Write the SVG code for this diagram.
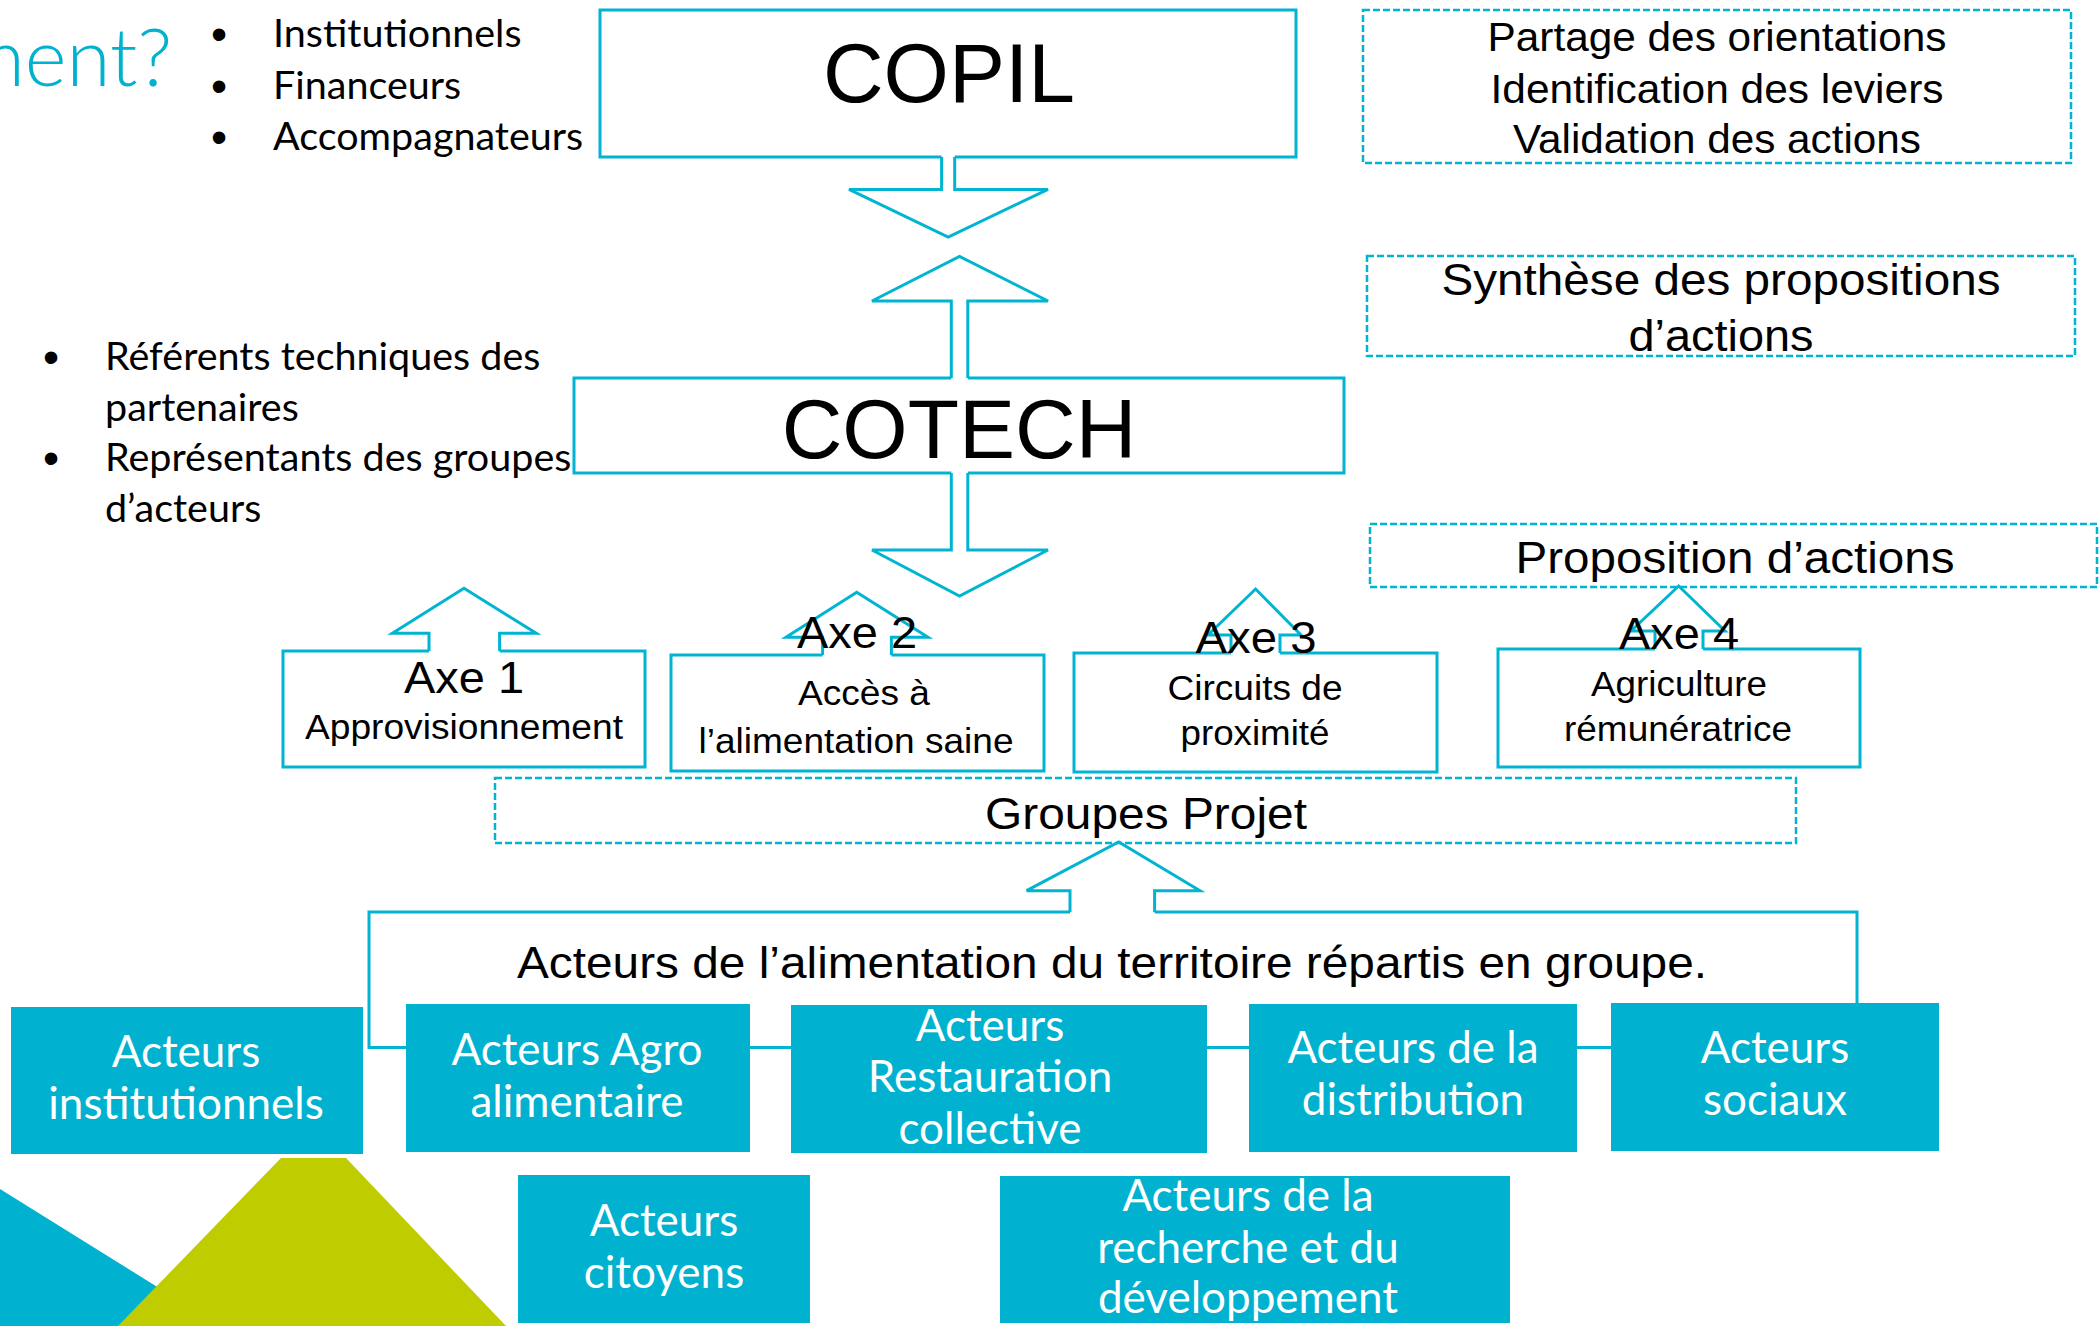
<svg xmlns="http://www.w3.org/2000/svg" width="2099" height="1326" viewBox="0 0 2099 1326">
<style>
.box{fill:none;stroke:#00B4D2;stroke-width:3}
.dash{fill:none;stroke:#00B4D2;stroke-width:2.5;stroke-dasharray:7 3}
.arr{fill:none;stroke:#00B4D2;stroke-width:3;stroke-linejoin:miter}
.fill{fill:#00B2D0}
.t{font-family:"Liberation Sans",Arial,sans-serif;fill:#000;text-anchor:middle}
.c{font-family:Lato,"Open Sans",sans-serif;fill:#000;font-size:39.5px}
.w{font-family:Lato,"Open Sans",sans-serif;fill:#fff;text-anchor:middle;font-size:44px}
.b{font-family:"Liberation Sans",Arial,sans-serif;fill:#000;font-size:46px;text-anchor:middle}
</style>
<rect width="2099" height="1326" fill="#fff"/>
<g id="decor">
<polygon points="0,1189 220,1326 0,1326" fill="#00B2D0"/>
<polygon points="281,1158 346,1158 506,1326 118,1326" fill="#BFCD00"/>
</g>
<text x="172" y="86" font-family="Lato,'Open Sans',sans-serif" font-weight="300" font-size="80" fill="#00B2D0" text-anchor="end">ment?</text>
<g id="liste-copil">
<text class="b" x="219" y="50">•</text>
<text class="b" x="219" y="102">•</text>
<text class="b" x="219" y="153">•</text>
<text class="c" x="273" y="47">Institutionnels</text>
<text class="c" x="273" y="99">Financeurs</text>
<text class="c" x="273" y="150">Accompagnateurs</text>
</g>
<g id="liste-cotech">
<text class="b" x="51" y="373">•</text>
<text class="b" x="51" y="474">•</text>
<text class="c" x="105" y="370">Référents techniques des</text>
<text class="c" x="105" y="421">partenaires</text>
<text class="c" x="105" y="471">Représentants des groupes</text>
<text class="c" x="105" y="522">d’acteurs</text>
</g>
<g id="connectors">
<path class="arr" d="M941.6,157 V189.4 H849 L948.2,237 L1048,189.4 H954.7 V157"/>
<path class="arr" d="M951.3,378 V301 H872 L959.5,256.4 L1048,301 H967.8 V378"/>
<path class="arr" d="M951.3,473 V550 H872 L959.5,596 L1048,550 H967.8 V473"/>
<path class="arr" d="M429,651 V633.3 H392.4 L464,588.3 L536.3,633.3 H499.6 V651"/>
<path class="arr" d="M822.6,655 V637.3 H786 L856.7,592.3 L928,637.3 H891.4 V655"/>
<path class="arr" d="M1231,653 V635 H1208 L1255.6,589 L1301,635 H1280 V653"/>
<path class="arr" d="M1655,649 V631 H1631 L1678.7,586 L1725,631 H1703 V649"/>
<path class="arr" d="M1070,912 V890.7 H1026.6 L1118.7,842 L1200,890.7 H1154.6 V912"/>
</g>
<g id="copil">
<path class="box" d="M941.6,157 H600 V10 H1296 V157 H954.7"/>
<text class="t" x="949" y="102" font-size="84">COPIL</text>
</g>
<g id="cotech">
<path class="box" d="M951.3,378 H574 V473 H951.3 M967.8,473 H1344 V378 H967.8"/>
<text class="t" x="959" y="458" font-size="84">COTECH</text>
</g>
<g id="note-copil">
<rect class="dash" x="1363" y="10" width="708" height="153"/>
<text class="t" x="1717" y="51" font-size="40" textLength="459" lengthAdjust="spacingAndGlyphs">Partage des orientations</text>
<text class="t" x="1717" y="102.6" font-size="40" textLength="453" lengthAdjust="spacingAndGlyphs">Identification des leviers</text>
<text class="t" x="1717" y="153" font-size="40" textLength="408" lengthAdjust="spacingAndGlyphs">Validation des actions</text>
</g>
<g id="note-cotech">
<rect class="dash" x="1367" y="256" width="708" height="100"/>
<text class="t" x="1721" y="295" font-size="45" textLength="559" lengthAdjust="spacingAndGlyphs">Synthèse des propositions</text>
<text class="t" x="1721" y="351" font-size="45" textLength="185" lengthAdjust="spacingAndGlyphs">d’actions</text>
</g>
<g id="note-axes">
<rect class="dash" x="1370" y="524" width="727" height="63"/>
<text class="t" x="1735" y="573" font-size="45" textLength="439" lengthAdjust="spacingAndGlyphs">Proposition d’actions</text>
</g>
<g id="axe1">
<path class="box" d="M429,651 H283 V767 H645 V651 H499.6"/>
<text class="t" x="464" y="693" font-size="44" textLength="120" lengthAdjust="spacingAndGlyphs">Axe 1</text>
<text class="t" x="464" y="739" font-size="35" textLength="318" lengthAdjust="spacingAndGlyphs">Approvisionnement</text>
</g>
<g id="axe2">
<path class="box" d="M822.6,655 H671 V771 H1044 V655 H891.4"/>
<text class="t" x="857" y="648" font-size="44" textLength="120" lengthAdjust="spacingAndGlyphs">Axe 2</text>
<text class="t" x="864" y="705" font-size="35" textLength="132" lengthAdjust="spacingAndGlyphs">Accès à</text>
<text class="t" x="856" y="753" font-size="35" textLength="315" lengthAdjust="spacingAndGlyphs">l’alimentation saine</text>
</g>
<g id="axe3">
<path class="box" d="M1231,653 H1074 V772 H1437 V653 H1280"/>
<text class="t" x="1256" y="653" font-size="44" textLength="121" lengthAdjust="spacingAndGlyphs">Axe 3</text>
<text class="t" x="1255" y="700" font-size="35" textLength="175" lengthAdjust="spacingAndGlyphs">Circuits de</text>
<text class="t" x="1255" y="745" font-size="35" textLength="149" lengthAdjust="spacingAndGlyphs">proximité</text>
</g>
<g id="axe4">
<path class="box" d="M1655,649 H1498 V767 H1860 V649 H1703"/>
<text class="t" x="1679" y="649" font-size="44" textLength="120" lengthAdjust="spacingAndGlyphs">Axe 4</text>
<text class="t" x="1679" y="696" font-size="35" textLength="176" lengthAdjust="spacingAndGlyphs">Agriculture</text>
<text class="t" x="1678" y="741" font-size="35" textLength="228" lengthAdjust="spacingAndGlyphs">rémunératrice</text>
</g>
<g id="groupes-projet">
<rect class="dash" x="495" y="778" width="1301" height="65"/>
<text class="t" x="1146" y="829" font-size="45" textLength="322" lengthAdjust="spacingAndGlyphs">Groupes Projet</text>
</g>
<g id="acteurs-territoire">
<path class="box" d="M1070,912 H369 V1047.5 H1857 V912 H1154.6"/>
<text class="t" x="1112" y="978" font-size="45" textLength="1190" lengthAdjust="spacingAndGlyphs">Acteurs de l’alimentation du territoire répartis en groupe.</text>
</g>
<g id="acteurs-institutionnels">
<rect class="fill" x="11" y="1007" width="352" height="147"/>
<text class="w" x="186" y="1067">Acteurs</text>
<text class="w" x="186" y="1119">institutionnels</text>
</g>
<g id="acteurs-agro">
<rect class="fill" x="406" y="1004" width="344" height="148"/>
<text class="w" x="577" y="1065">Acteurs Agro</text>
<text class="w" x="577" y="1117">alimentaire</text>
</g>
<g id="acteurs-restauration">
<rect class="fill" x="791" y="1005" width="416" height="148"/>
<text class="w" x="990" y="1041">Acteurs</text>
<text class="w" x="990" y="1092">Restauration</text>
<text class="w" x="990" y="1144">collective</text>
</g>
<g id="acteurs-distribution">
<rect class="fill" x="1249" y="1004" width="328" height="148"/>
<text class="w" x="1413" y="1063">Acteurs de la</text>
<text class="w" x="1413" y="1115">distribution</text>
</g>
<g id="acteurs-sociaux">
<rect class="fill" x="1611" y="1003" width="328" height="148"/>
<text class="w" x="1775" y="1063">Acteurs</text>
<text class="w" x="1775" y="1115">sociaux</text>
</g>
<g id="acteurs-citoyens">
<rect class="fill" x="518" y="1175" width="292" height="148"/>
<text class="w" x="664" y="1236">Acteurs</text>
<text class="w" x="664" y="1288">citoyens</text>
</g>
<g id="acteurs-recherche">
<rect class="fill" x="1000" y="1176" width="510" height="147"/>
<text class="w" x="1248" y="1211">Acteurs de la</text>
<text class="w" x="1248" y="1263">recherche et du</text>
<text class="w" x="1248" y="1313">développement</text>
</g>
</svg>
